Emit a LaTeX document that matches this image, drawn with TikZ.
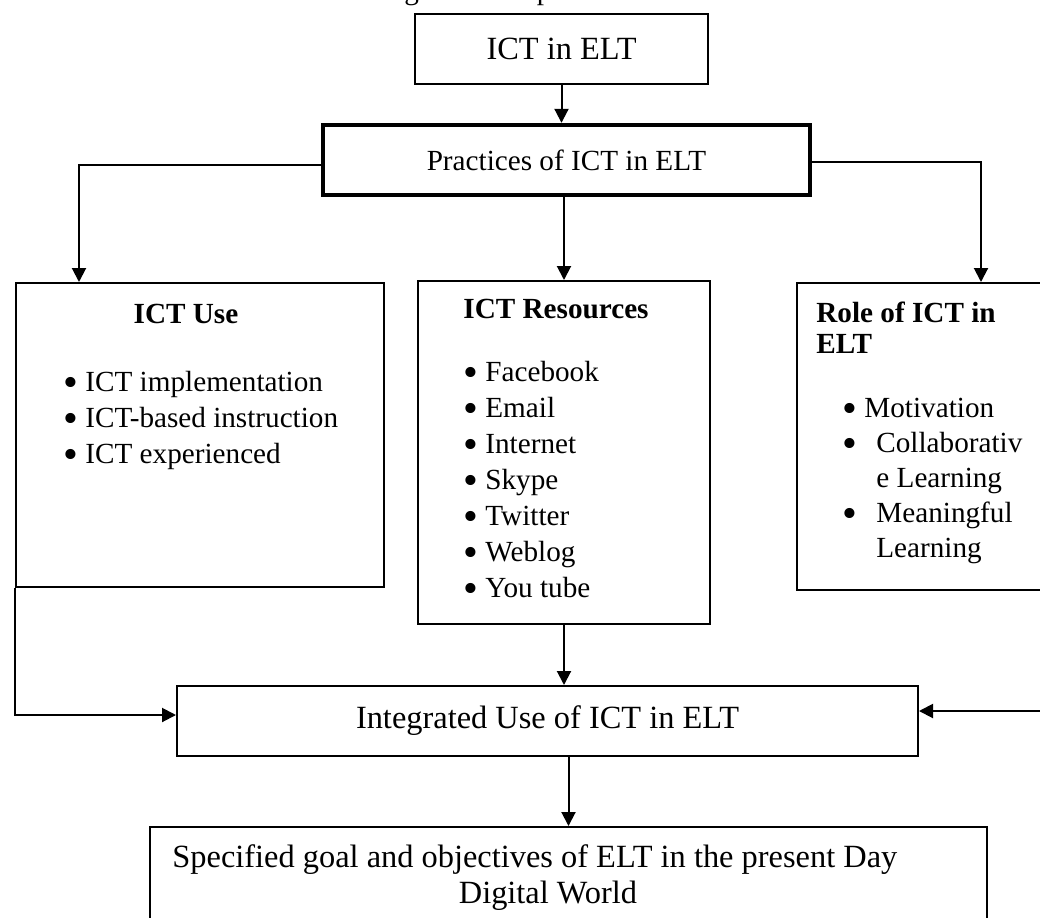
\documentclass[tikz,border=0pt]{standalone}
\usepackage{fontspec}
\usepackage{graphicx}
\setmainfont{Liberation Serif}
\usetikzlibrary{arrows.meta}
\newcommand{\bigbul}{\raisebox{-0.2em}[0pt][0pt]{\scalebox{1.45}{\textbullet}}}
\newcommand{\bul}{\makebox[11pt][l]{\bigbul}}
\newcommand{\wbul}{\makebox[17pt][l]{\bigbul}}
\begin{document}
\begin{tikzpicture}[x=0.5pt,y=-0.5pt,
    font=\fontsize{14.6}{18}\selectfont,
    box/.style={draw,line width=1pt,inner sep=0pt},
    thickbox/.style={draw,line width=2.2pt,inner sep=0pt},
    big/.style={font=\fontsize{16.2}{18}\selectfont},
    txt/.style={inner sep=0pt,anchor=base west,align=left},
    head/.style={txt,font=\bfseries\fontsize{14.6}{15.5}\selectfont},
    conn/.style={line width=1pt,-{Triangle[width=7pt,length=7pt]}}]
  \useasboundingbox (0,0) rectangle (1040,917);
  \clip (0,0) rectangle (1040,917);
  \node[inner sep=0pt,anchor=base] (intro) at (496.5,-1)
    {\makebox[276.5pt][s]{the following conceptual framework}};
  \draw
    (561.5,49) node[box,big,minimum width=146.5pt,minimum height=35pt] (top) {ICT in ELT}
    (566.5,160) node[thickbox,minimum width=243.5pt,minimum height=35pt] (prac) {Practices of ICT in ELT}
    (200,435) node[box,minimum width=184pt,minimum height=152pt] (use) {}
    (564,452.5) node[box,minimum width=146pt,minimum height=171.5pt] (res) {}
    (936,436.5) node[box,minimum width=139pt,minimum height=153.5pt] (role) {}
    (547.5,721) node[box,big,minimum width=370.5pt,minimum height=35pt] (int) {Integrated Use of ICT in ELT}
    (568.5,892) node[box,minimum width=418.5pt,minimum height=65pt] (goal) {};
  % box contents (multi-line nodes sit on their last baseline)
  \node[head,anchor=base] (usehead) at (186,323) {ICT Use};
  \node[txt] (uselist) at (63,463)
    {\bul ICT implementation\\\bul ICT-based instruction\\\bul ICT experienced};
  \node[head] (reshead) at (463,318) {ICT Resources};
  \node[txt] (reslist) at (463,597)
    {\bul Facebook\\\bul Email\\\bul Internet\\\bul Skype\\\bul Twitter\\\bul Weblog\\\bul You tube};
  \node[head] (rolehead) at (816,353) {Role of ICT in\\ELT};
  \node[txt,font=\fontsize{14.6}{17.5}\selectfont] (rolelist) at (842,557)
    {\bul Motivation\\\wbul Collaborativ\\\hspace*{17pt}e Learning\\\wbul Meaningful\\\hspace*{17pt}Learning};
  \node[txt,big] (goalA) at (172,867) {Specified goal and objectives of ELT in the present Day};
  \node[inner sep=0pt,anchor=base,big] (goalB) at (548,903) {Digital World};
  \coordinate (rin) at (1045,711);
  \begin{scope}[conn]
    \draw (top.south) -- (top.south |- prac.north);
    \draw ([yshift=-2.5pt]prac.west) -| ([xshift=32pt]use.north west);
    \draw (res.north |- prac.south) -- (res.north);
    \draw ([yshift=-1pt]prac.east) -| ([xshift=92.5pt]role.north west);
    \draw (res.south) -- (res.south |- int.north);
    \draw (use.south west) |- ([yshift=3pt]int.west);
    \draw (rin) -- ([yshift=5pt]int.east);
    \draw (goal.north |- int.south) -- (goal.north);
  \end{scope}
\end{tikzpicture}
\end{document}
